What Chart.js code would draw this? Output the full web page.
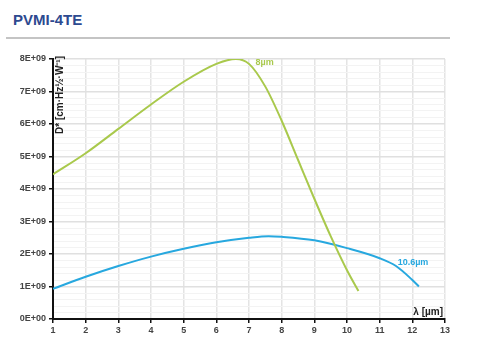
<!DOCTYPE html>
<html>
<head>
<meta charset="utf-8">
<script src="https://cdn.jsdelivr.net/npm/chart.js@4"></script>
<style>
  html, body { margin: 0; padding: 0; background: #fff; }
  #wrap { position: relative; width: 484px; height: 352px; }
  #title { position: absolute; left: 13px; top: 11px; font: bold 15px "Liberation Sans", Arial, sans-serif; color: #2d4a90; }
  #rule { position: absolute; left: 6px; top: 37px; width: 444px; height: 2px; background: #c4c4c4; }
  canvas { position: absolute; left: 0; top: 0; }
</style>
</head>
<body>
<div id="wrap">
  <div id="title">PVMI-4TE</div>
  <div id="rule"></div>
  <canvas id="c" width="484" height="352"></canvas>
</div>
<script>
// wavelength (µm) and detectivity for the two curves
const greenX = [1, 2, 3, 4, 5, 6, 6.6, 7, 7.5, 8, 8.5, 9, 9.5, 10, 10.35];
const greenY = [4.45e9, 5.1e9, 5.85e9, 6.6e9, 7.3e9, 7.85e9, 8.0e9, 7.85e9, 7.15e9, 6.1e9, 4.9e9, 3.7e9, 2.55e9, 1.5e9, 0.86e9];

const blueX = [1, 2, 3, 4, 5, 6, 7, 7.6, 8, 9, 10, 11, 11.5, 12, 12.2];
const blueY = [0.93e9, 1.3e9, 1.63e9, 1.92e9, 2.16e9, 2.36e9, 2.5e9, 2.55e9, 2.53e9, 2.42e9, 2.18e9, 1.87e9, 1.63e9, 1.2e9, 1.0e9];

const xTicks = [1, 2, 3, 4, 5, 6, 7, 8, 9, 10, 11, 12, 13];
const yMax = 8e9;

const GREEN = '#a9c94c';
const BLUE = '#27a8df';
const TICK_FONT = { family: '"Liberation Sans", Arial, sans-serif', size: 9, weight: 'bold' };

function pts(xs, ys) {
  return xs.map((x, i) => ({ x: x, y: ys[i] }));
}

function isMajor(v) {
  return Math.abs(v / 1e9 - Math.round(v / 1e9)) < 1e-6;
}

// curve labels and axis titles
const labelsPlugin = {
  id: 'labels',
  afterDatasetsDraw(chart) {
    const ctx = chart.ctx;
    const xs = chart.scales.x, ys = chart.scales.y;
    ctx.save();
    ctx.font = 'bold 9px "Liberation Sans", Arial, sans-serif';
    ctx.textBaseline = 'middle';
    ctx.fillStyle = GREEN;
    ctx.fillText('8µm', xs.getPixelForValue(7.2), ys.getPixelForValue(7.88e9));
    ctx.fillStyle = BLUE;
    ctx.fillText('10.6µm', xs.getPixelForValue(11.55), ys.getPixelForValue(1.73e9));

    ctx.fillStyle = '#222';
    ctx.font = 'bold 10px "Liberation Sans", Arial, sans-serif';
    ctx.textAlign = 'right';
    ctx.fillText('λ [µm]', chart.chartArea.right - 2, chart.chartArea.bottom - 7);

    ctx.translate(chart.chartArea.left + 7, chart.chartArea.top - 3);
    ctx.rotate(-Math.PI / 2);
    ctx.textAlign = 'right';
    ctx.fillText('D* [cm·Hz½·W⁻¹]', 0, 0);
    ctx.restore();
  }
};

new Chart(document.getElementById('c'), {
  type: 'scatter',
  data: {
    datasets: [
      { label: '8µm', data: pts(greenX, greenY), showLine: true, borderColor: GREEN, borderWidth: 2,
        pointRadius: 0, cubicInterpolationMode: 'monotone' },
      { label: '10.6µm', data: pts(blueX, blueY), showLine: true, borderColor: BLUE, borderWidth: 2,
        pointRadius: 0, cubicInterpolationMode: 'monotone' }
    ]
  },
  options: {
    responsive: false,
    animation: false,
    layout: { padding: { top: 59, right: 39, left: 0, bottom: 0 } },
    plugins: { legend: { display: false }, tooltip: { enabled: false } },
    scales: {
      x: {
        type: 'linear', min: 1, max: 13,
        afterBuildTicks: s => { s.ticks = xTicks.map(v => ({ value: v })); },
        afterFit: s => { s.height = 33; },
        border: { color: '#111', width: 2 },
        grid: { color: '#e4e4e4', lineWidth: 1.5, tickColor: '#111', tickLength: 4 },
        ticks: { color: '#444', font: TICK_FONT, padding: 2, maxRotation: 0 }
      },
      y: {
        min: 0, max: yMax,
        ticks: {
          stepSize: 0.2e9, autoSkip: false, color: '#444', font: TICK_FONT, padding: 3,
          callback: v => isMajor(v) ? (v === 0 ? '0E+00' : Math.round(v / 1e9) + 'E+09') : ''
        },
        afterFit: s => { s.width = 53; },
        border: { color: '#111', width: 2 },
        grid: {
          color: c => isMajor(c.tick.value) ? '#e0e0e0' : '#f3f3f3',
          lineWidth: c => isMajor(c.tick.value) ? 1.5 : 1,
          tickColor: c => isMajor(c.tick.value) ? '#111' : 'rgba(0,0,0,0)',
          tickLength: 4
        }
      }
    }
  },
  plugins: [labelsPlugin]
});
</script>
</body>
</html>
